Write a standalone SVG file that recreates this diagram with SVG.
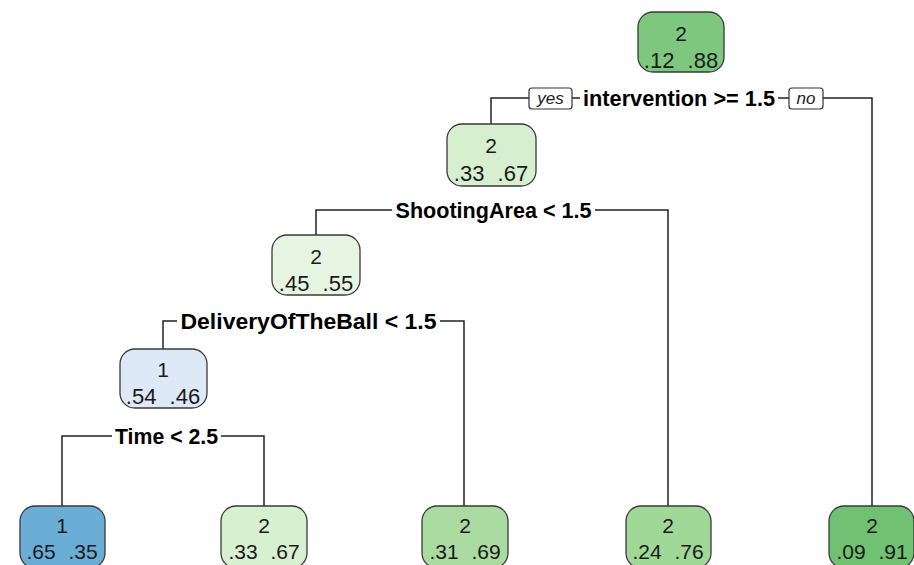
<svg xmlns="http://www.w3.org/2000/svg" width="914" height="565" viewBox="0 0 914 565">
<style>
.box{stroke:#3a3a3a;stroke-width:1.3}
.cls{font-family:"Liberation Sans",Arial,sans-serif;font-size:21px;fill:#1a1a1a;text-anchor:middle}
.prob{font-family:"Liberation Sans",Arial,sans-serif;font-size:22px;fill:#1a1a1a;text-anchor:middle;word-spacing:7px}
.leafp{font-size:21px}
.split{font-family:"Liberation Sans",Arial,sans-serif;font-size:21.5px;font-weight:bold;fill:#000;text-anchor:middle}
.yn{font-family:"Liberation Sans",Arial,sans-serif;font-size:17px;font-style:italic;fill:#222;text-anchor:middle}
.ln{stroke:#222;stroke-width:1.5;fill:none}
</style>
<rect width="914" height="565" fill="#fff"/>
<g id="connectors">
<path class="ln" d="M491,124 V98 H872 V506"/>
<path class="ln" d="M316,235 V210 H668 V506"/>
<path class="ln" d="M163,349 V321 H464 V506"/>
<path class="ln" d="M62,506 V436 H264 V506"/>
</g>
<g id="split-labels">
<rect x="580" y="86" width="198" height="24" fill="#fff"/>
<text class="split" x="679" y="106" textLength="192" lengthAdjust="spacingAndGlyphs">intervention &gt;= 1.5</text>
<rect x="529" y="88" width="43" height="21" rx="3" fill="#fff" stroke="#333" stroke-width="1.2"/>
<text class="yn" x="550.5" y="104">yes</text>
<rect x="789" y="88" width="34" height="21" rx="3" fill="#fff" stroke="#333" stroke-width="1.2"/>
<text class="yn" x="806" y="104">no</text>
<rect x="392" y="198" width="203" height="24" fill="#fff"/>
<text class="split" x="493.5" y="218" textLength="196" lengthAdjust="spacingAndGlyphs">ShootingArea &lt; 1.5</text>
<rect x="177" y="309" width="263" height="24" fill="#fff"/>
<text class="split" x="308.5" y="329" textLength="256" lengthAdjust="spacingAndGlyphs">DeliveryOfTheBall &lt; 1.5</text>
<rect x="112" y="424" width="109" height="24" fill="#fff"/>
<text class="split" x="166.5" y="444" textLength="103" lengthAdjust="spacingAndGlyphs">Time &lt; 2.5</text>
</g>
<g id="node-root">
<rect class="box" x="638" y="12" width="86" height="60" rx="15" fill="#7dc87e"/>
<text class="cls" x="681" y="41">2</text>
<text class="prob" x="681" y="68">.12 .88</text>
</g>
<g id="node-2">
<rect class="box" x="447" y="124" width="89" height="62" rx="15" fill="#d6f0cf"/>
<text class="cls" x="491" y="153">2</text>
<text class="prob" x="491" y="181">.33 .67</text>
</g>
<g id="node-3">
<rect class="box" x="272" y="235" width="88" height="60" rx="15" fill="#e6f5e1"/>
<text class="cls" x="316" y="264">2</text>
<text class="prob" x="316" y="291">.45 .55</text>
</g>
<g id="node-4">
<rect class="box" x="120" y="349" width="87" height="59" rx="15" fill="#dde9f6"/>
<text class="cls" x="163" y="377">1</text>
<text class="prob" x="163" y="404">.54 .46</text>
</g>
<g id="leaf-1">
<rect class="box" x="20" y="506" width="85" height="62" rx="15" fill="#6aaed6"/>
<text class="cls" x="62" y="533">1</text>
<text class="prob leafp" x="62" y="559">.65 .35</text>
</g>
<g id="leaf-2">
<rect class="box" x="221" y="506" width="86" height="62" rx="15" fill="#d7f0d0"/>
<text class="cls" x="264" y="533">2</text>
<text class="prob leafp" x="264" y="559">.33 .67</text>
</g>
<g id="leaf-3">
<rect class="box" x="422" y="506" width="86" height="62" rx="15" fill="#aadca2"/>
<text class="cls" x="465" y="533">2</text>
<text class="prob leafp" x="465" y="559">.31 .69</text>
</g>
<g id="leaf-4">
<rect class="box" x="626" y="506" width="85" height="62" rx="15" fill="#a0d898"/>
<text class="cls" x="668" y="533">2</text>
<text class="prob leafp" x="668" y="559">.24 .76</text>
</g>
<g id="leaf-5">
<rect class="box" x="829" y="506" width="85" height="62" rx="15" fill="#70c171"/>
<text class="cls" x="872" y="533">2</text>
<text class="prob leafp" x="872" y="559">.09 .91</text>
</g>
</svg>
